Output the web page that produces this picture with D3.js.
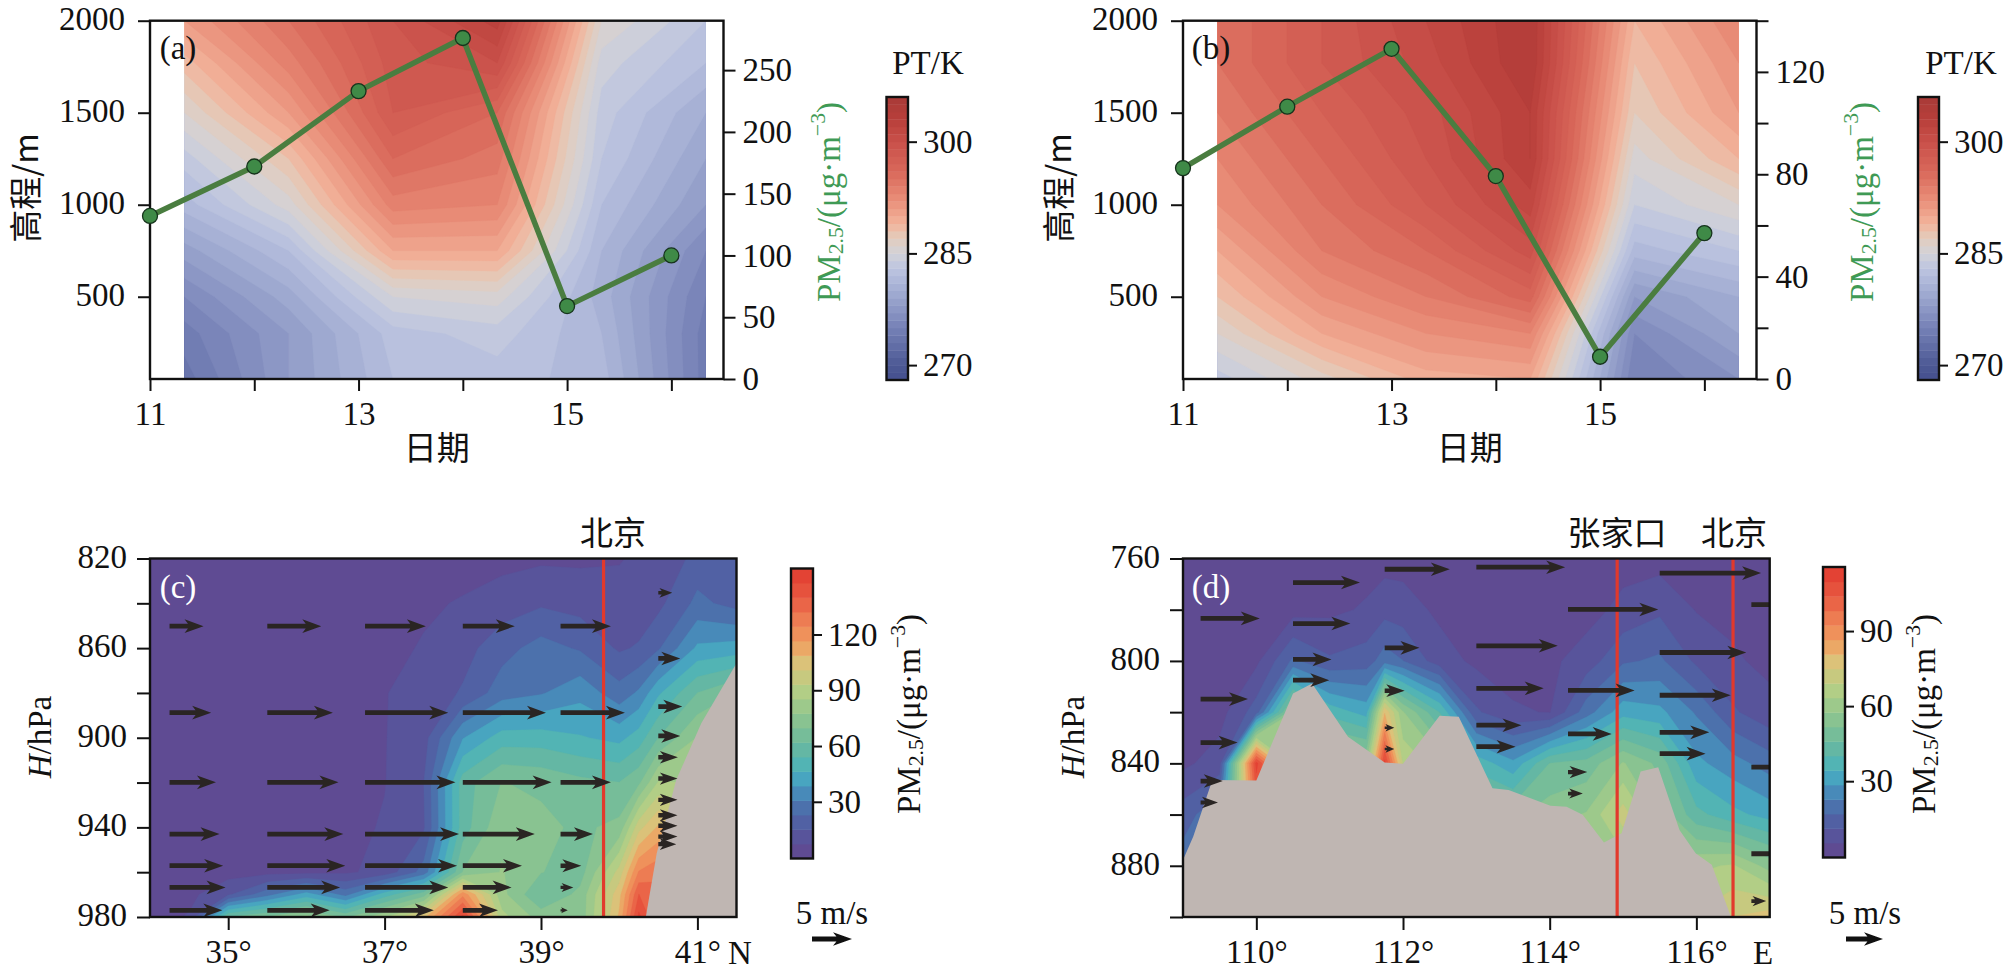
<!DOCTYPE html>
<html><head><meta charset="utf-8">
<script src="https://cdn.jsdelivr.net/npm/d3@7"></script>
<style>
html,body{margin:0;padding:0;background:#fff}
text{font-family:"Liberation Serif",serif;fill:#111}
.cjk{font-family:"Noto Sans CJK SC",sans-serif}
</style></head><body><svg id="c" width="2010" height="971"></svg>
<script>
// ---------- data ----------
const dayTicks=[11,12,13,14,15,16];
const dayLabels=[11,13,15];
const pmLineA=[132,172,233,276,59,100];
const pmLineB=[82.4,106.4,129,79.3,8.7,57];
const ptCols=[11.33,12.33,13.33,14.33,15.33,16.33];
const ptHeights=[2000,1770,1500,1250,1000,750,500,300,53];
const ptA=[
[291,295,299,302.5,286,283],
[288.5,293.5,298.5,300,284.5,282],
[286,291,298,296,283.5,280],
[283.5,288,296,294.5,283,279],
[281.5,285.5,293.5,293,282,278],
[278.5,282,290,290,281,276],
[276,279.5,285,285.5,280.5,275],
[274.5,278,282.5,283.5,281,274.5],
[273.5,278,282,282.5,281.5,274.5]];
const ptB=[
[295,298,301,304,289,293],
[295,298,300.5,304,288,292],
[294,297,299.5,303,287,291],
[293,296,299,303,285.5,289],
[292,295,298,301.5,284,286],
[290,294,296,299.5,281.5,283],
[288,292,294,296.5,278,280],
[286,290,292,293,276,279],
[283.5,286.5,289.5,290,275,277]];
const pmColsC=[34,34.5,35,35.5,36,36.5,37,37.5,38,38.5,39,39.5,40,40.25,40.5,41,41.5];
const pmLevelsC=[820,840,860,880,900,920,940,960,970,980];
const pmC=[
[3,3,3,3,3,3,3,3,4,5,6,6,7,8,8,18,16],
[3,3,3,3,3,3,4,6,8,11,14,12,9,10,13,25,20],
[3,3,3,3,3,3,5,8,12,20,26,22,14,16,22,40,42],
[3,3,3,3,4,5,7,10,16,27,30,36,26,32,45,62,70],
[3,3,3,4,5,5,7,12,38,50,50,47,44,50,62,78,78],
[3,3,3,4,6,5,7,15,58,70,68,64,62,68,86,85,85],
[3,3,4,4,5,5,8,14,58,76,72,68,72,98,110,100,100],
[3,3,4,5,5,6,10,26,70,78,70,66,96,125,130,120,120],
[4,5,14,28,42,28,50,66,122,80,62,72,106,140,135,120,120],
[4,8,62,70,80,68,84,106,150,88,74,72,110,150,130,120,120]];
const pmColsD=[109,109.5,110,110.5,111,111.5,111.75,112,112.5,113,113.5,114,114.5,115,115.5,116,116.5,117];
const pmLevelsD=[760,780,800,820,840,860,880,900];
const pmD=[
[2,2,2,3,3,3,3,3,3,2,2,2,2,3,3,3,3,3],
[2,2,3,3,4,6,9,8,4,3,2,2,3,7,10,5,4,3],
[3,3,4,18,12,14,20,17,8,4,3,4,8,16,18,10,6,4],
[3,3,14,58,38,32,80,58,40,12,6,5,20,32,30,22,12,7],
[4,8,112,60,60,58,112,68,60,38,30,46,48,58,50,30,25,20],
[14,22,100,60,60,60,60,60,60,50,50,55,58,72,56,42,36,32],
[20,22,60,60,60,60,60,60,60,60,60,60,60,60,62,62,64,55],
[20,22,60,60,60,60,60,60,60,60,60,60,60,60,62,70,75,78]];
const terrainLonC=[40.34,40.48,40.73,41.05,41.5];
const terrainPC=[980,951.5,918.8,893.5,866.8];
const terrainLonD=[109,109.14,109.4,110,110.5,110.76,111.25,111.75,112,112.5,112.76,113.22,113.44,114.01,114.23,114.45,114.74,114.98,115.24,115.48,115.77,115.99,116.21,116.47,117];
const terrainPD=[877.7,868.6,846.5,846.7,812.7,808.8,829.6,839.7,840.2,821.4,821.8,849.7,850.4,856.6,856.9,860.1,870.9,867.3,843.2,841.5,866,875.1,879.6,899.8,900];
const arrowLonC=[34.25,35.5,36.75,38,39.25];
const arrowLevelsC=[850.2,888.8,919.9,943,957.1,966.8,977];
const arrowUC=[
[4.25,6.75,7.6,6.5,6.3],
[5.2,8.2,10.4,10.4,8.05],
[5.8,8.9,11.3,11.1,6.3],
[6.25,9.5,11.75,9,4.05],
[6.7,9.75,11.5,7.4,2.6],
[7,9.1,10.4,6.1,1.6],
[6.6,7.8,8.6,4.4,0.9]];
const arrowLon2C=40.5;
const arrowP2C=[835.3,864.6,886.1,899.2,908.7,918.2,927.7,934.6,939.3,944.1,947.5];
const arrowU2C=[1.75,2.75,3,2.75,2.45,2.4,2.4,2.4,2.4,2.4,2.25];
const arrowLonD=[109.24,110.5,111.75,113,114.25,115.5,116.75];
const arrowPD=[
[783.4,814.9,831.9,846.9,855.3],
[769.4,785.4,799.4,807.5],
[764.2,794.9,811.6,826.1,834.4],
[763.4,794.1,810.7,825.1,833.5],
[779.9,811.5,828.5,843.4,851.8],
[765.7,796.7,813.4,827.9,836.2],
[778,841.5,875.3,893.8]];
const arrowUD=[
[8,6.4,5,3,2.35],
[9.05,7.75,5.2,4.9],
[8.8,4.7,2.7,1.3,1.3],
[12,11,9.1,6.1,5.3],
[12.2,9,5.9,2.6,2],
[13.7,11.7,9.6,6.7,6.2],
[6,6,6,2]];
const ptStops=[[268,"#454f8e"],[270,"#4d5995"],[275,"#7581b6"],[280,"#a2add3"],[283,"#bdc5e0"],[285,"#d2d2d8"],[287,"#e2cdbe"],[289,"#f2b49b"],[292,"#ea907a"],[296,"#d9685a"],[300,"#c9504a"],[303,"#b83f3a"],[306,"#a83a38"]];
const pmStops=[[0,"#62478f"],[15,"#54589f"],[30,"#4a78b0"],[40,"#45a0c4"],[50,"#52b4b4"],[60,"#68b8a0"],[75,"#8cc48f"],[90,"#b4cf85"],[105,"#dcc279"],[115,"#f0a060"],[125,"#ee8557"],[140,"#e85a42"],[155,"#e23c30"]];

// ---------- helpers ----------
const svg=d3.select("#c");
const FS=33;
const ramp=st=>d3.scaleLinear().domain(st.map(d=>d[0])).range(st.map(d=>d[1])).clamp(true);
let clipId=0;
function clip(x0,y0,x1,y1){const id="cl"+(++clipId);
 svg.append("clipPath").attr("id",id).append("rect").attr("x",x0).attr("y",y0).attr("width",x1-x0).attr("height",y1-y0);return "url(#"+id+")";}
function contourFill(g,grid,cols,rows,xs,ys,thr,col){
 const n=cols.length,m=rows.length,vals=grid.flat();
 const ix=d3.scaleLinear().domain(cols.map((_,i)=>i+.5)).range(cols.map(xs));
 const iy=d3.scaleLinear().domain(rows.map((_,i)=>i+.5)).range(rows.map(ys));
 const path=d3.geoPath(d3.geoTransform({point(x,y){this.stream.point(ix(x),iy(y));}}));
 const cs=d3.contours().size([n,m]).thresholds(thr)(vals);
 g.selectAll(null).data(cs).join("path").attr("d",path)
  .attr("fill",(d,i)=>col((thr[i]+(thr[i+1]??thr[i]+thr[1]-thr[0]))/2))
  .attr("stroke",(d,i)=>col((thr[i]+(thr[i+1]??thr[i]+thr[1]-thr[0]))/2)).attr("stroke-width",.3);
}
function axisStyle(g,size,shift){g.select(".domain").remove();
 g.selectAll(".tick line").attr("stroke","#111").attr("stroke-width",2);
 g.selectAll("text").attr("font-size",size||FS).attr("fill","#111").attr("font-family","Liberation Serif");
 if(shift)g.selectAll("text").attr("y",shift);}
function frame(x0,y0,x1,y1){svg.append("rect").attr("x",x0).attr("y",y0).attr("width",x1-x0).attr("height",y1-y0)
 .attr("fill","none").attr("stroke","#111").attr("stroke-width",2.4);}
function txt(x,y,s,o={}){const t=svg.append("text").attr("x",x).attr("y",y).attr("text-anchor",o.anchor||"middle")
 .attr("dominant-baseline","central").attr("font-size",o.size||FS).text(s);
 if(o.cjk)t.attr("class","cjk"); if(o.fill)t.style("fill",o.fill);
 if(o.rot)t.attr("transform",`rotate(-90 ${x} ${y})`); return t;}
function pmLabel(x,y,fill){
 const t=svg.append("text").attr("transform",`translate(${x},${y}) rotate(-90)`).attr("text-anchor","middle")
  .attr("dominant-baseline","central").attr("font-size",FS).style("fill",fill);
 t.append("tspan").text("PM");
 t.append("tspan").attr("font-size",FS*.66).attr("dy",7).style("fill",fill).text("2.5");
 t.append("tspan").attr("dy",-7).text("/(μg·m");
 t.append("tspan").attr("font-size",FS*.66).attr("dy",-11).text("−3");
 t.append("tspan").attr("dy",11).text(")");
}
function colorbar(x0,x1,y0,y1,lo,hi,thr,col,ticks,labelX){
 const y=d3.scaleLinear().domain([lo,hi]).range([y1,y0]);
 svg.append("g").selectAll("rect").data(thr.slice(0,-1)).join("rect")
  .attr("x",x0).attr("width",x1-x0).attr("y",(d,i)=>y(thr[i+1])).attr("height",(d,i)=>y(thr[i])-y(thr[i+1])+.4)
  .attr("fill",(d,i)=>col((thr[i]+thr[i+1])/2));
 const g=svg.append("g").attr("transform",`translate(${x1},0)`).call(d3.axisRight(y).tickValues(ticks).tickSize(9).tickPadding(labelX-x1-9).tickFormat(d3.format("d")));
 axisStyle(g); frame(x0,y0,x1,y1);
}
function arrowPath(x,y,len){
 const s=Math.min(1,len/22),hl=Math.min(19,len*.92),hw=6.8*Math.pow(s,.75),t=2.4*Math.pow(s,.7),n=hl*.82;
 return `M${x},${y-t}L${x+len-n},${y-t}L${x+len-hl},${y-hw}L${x+len},${y}L${x+len-hl},${y+hw}L${x+len-n},${y+t}L${x},${y+t}Z`;
}
// ---------- panels a, b ----------
const ptThr=d3.range(268,307,1), ptCol=ramp(ptStops);
function topPanel(x0,grid,line,rightMax,rightTicks,rightFmt,tag,cbX0,cbX1,titleX){
 const x1=x0+573.5,y0=20.7,y1=379;
 const xs=d3.scaleLinear().domain([11,16.5]).range([x0,x1]);
 const ys=d3.scaleLinear().domain([53,2000]).range([y1,y0]);
 const yr=d3.scaleLinear().domain([0,rightMax]).range([y1,y0]);
 const g=svg.append("g").attr("clip-path",clip(xs(11.33),y0,xs(16.33),y1));
 contourFill(g,grid,ptCols,ptHeights,xs,ys,ptThr,ptCol);
 const a=svg.append("g").attr("transform",`translate(0,${y1})`).call(d3.axisBottom(xs).tickValues(dayTicks).tickSize(12).tickPadding(11).tickFormat(d=>dayLabels.includes(d)?d:""));axisStyle(a);
 const l=svg.append("g").attr("transform",`translate(${x0},0)`).call(d3.axisLeft(ys).tickValues([500,1000,1500,2000]).tickSize(12).tickPadding(13).tickFormat(d3.format("d")));axisStyle(l,FS,-2);
 const r=svg.append("g").attr("transform",`translate(${x1},0)`).call(d3.axisRight(yr).tickValues(rightTicks).tickSize(12).tickPadding(7).tickFormat(rightFmt));axisStyle(r);
 frame(x0,y0,x1,y1);
 const lg=d3.line().x((d,i)=>xs(dayTicks[i])).y(d=>yr(d));
 svg.append("path").attr("d",lg(line)).attr("fill","none").attr("stroke","#4a7d40").attr("stroke-width",5.5).attr("stroke-linejoin","round");
 svg.append("g").selectAll("circle").data(line).join("circle").attr("cx",(d,i)=>xs(dayTicks[i])).attr("cy",d=>yr(d)).attr("r",7.5)
  .attr("fill","#3f8a47").attr("stroke","#16331c").attr("stroke-width",1.3);
 txt(x0+28,48,tag);
 txt(x0-126,188,"高程/m",{cjk:1,rot:1});
 txt(xs(13.75),446,"日期",{cjk:1});
 pmLabel(x1+105,202,"#3f9a55");
 txt(titleX,63,"PT/K");
 colorbar(cbX0,cbX1,97,380,268,306,ptThr,ptCol,[270,285,300],cbX1+15);
}
topPanel(150,ptA,pmLineA,290,[0,50,100,150,200,250],d3.format("d"),"(a)",886.5,908,928);
topPanel(1183,ptB,pmLineB,140,[0,20,40,60,80,100,120,140],d=>[0,40,80,120].includes(d)?d:"","(b)",1918,1939,1961);
// ---------- panels c, d ----------
function lowerPanel(o){
 const {x0,x1,lon,p}=o,y0=558.5,y1=917;
 const xs=d3.scaleLinear().domain(lon).range([x0,x1]);
 const ys=d3.scaleLinear().domain(p).range([y0,y1]);
 const thr=o.thr,col=ramp(pmStops.map(d=>[d[0]*o.k,d[1]]));
 const c=clip(x0,y0,x1,y1);
 const g=svg.append("g").attr("clip-path",c);
 contourFill(g,o.grid,o.cols,o.rows,xs,ys,thr,col);
 g.append("path").attr("fill","#bfb6b2").attr("d",d3.area().x(d=>xs(d[0])).y0(y1+5).y1(d=>ys(d[1]))(o.terLon.map((d,i)=>[d,o.terP[i]])));
 o.sites.forEach(s=>{svg.append("line").attr("x1",xs(s)).attr("x2",xs(s)).attr("y1",y0).attr("y2",y1).attr("stroke","#e2392c").attr("stroke-width",3.2);});
 const ag=svg.append("g").attr("clip-path",c);
 o.arrows.forEach(a=>ag.append("path").attr("d",arrowPath(xs(a[0]),ys(a[1]),a[2]*o.scale)).attr("fill","#2a2523"));
 const b=svg.append("g").attr("transform",`translate(0,${y1})`).call(d3.axisBottom(xs).tickValues(o.xt).tickSize(13).tickPadding(10).tickFormat(d=>d+"°"));axisStyle(b);
 const l=svg.append("g").attr("transform",`translate(${x0},0)`).call(d3.axisLeft(ys).tickValues(o.yt).tickSize(13).tickPadding(10).tickFormat(d=>o.yl.includes(d)?d:""));axisStyle(l,FS,-2);
 frame(x0,y0,x1,y1);
 txt(x0+28,587,o.tag,{fill:"#fff"});
 const h=svg.append("text").attr("transform",`translate(${x0-110},737) rotate(-90)`).attr("text-anchor","middle").attr("dominant-baseline","central").attr("font-size",FS);
 h.append("tspan").attr("font-style","italic").text("H"); h.append("tspan").text("/hPa");
 o.labels.forEach(s=>txt(s[0],531,s[1],{cjk:1}));
 txt(o.dirX,953,o.dir);
 pmLabel(o.cbLabelX,714,"#111");
 colorbar(o.cb[0],o.cb[1],o.cb[2],o.cb[3],-0.5,o.cbMax,thr,col,o.cbT,o.cb[1]+15);
 txt(o.keyC,913,"5 m/s");
 svg.append("path").attr("d",arrowPath(o.keyX,939,5*o.scale)).attr("fill","#111");
}
const arrowsC=[];
arrowLevelsC.forEach((p,i)=>arrowLonC.forEach((l,j)=>arrowsC.push([l,p,arrowUC[i][j]])));
arrowP2C.forEach((p,i)=>arrowsC.push([arrowLon2C,p,arrowU2C[i]]));
const arrowsD=[];
arrowLonD.forEach((l,j)=>arrowPD[j].forEach((p,i)=>arrowsD.push([l,p,arrowUD[j][i]])));
lowerPanel({x0:150,x1:736.5,lon:[34,41.5],p:[820,980],grid:pmC,cols:pmColsC,rows:pmLevelsC,thr:d3.range(-0.5,156,7.8),k:1,
 terLon:terrainLonC,terP:terrainPC,sites:[39.8],arrows:arrowsC,scale:8,xt:[35,37,39,41],yt:d3.range(820,981,20),yl:[820,860,900,940,980],
 tag:"(c)",labels:[[613,"北京"]],dir:"N",dirX:740,cbLabelX:909,cb:[791,813,568.5,858.5],cbMax:155.5,cbT:[30,60,90,120],keyC:832,keyX:812});
lowerPanel({x0:1183,x1:1769.7,lon:[109,117],p:[760,900],grid:pmD,cols:pmColsD,rows:pmLevelsD,thr:d3.range(-0.5,116,5.8),k:115/155,
 terLon:terrainLonD,terP:terrainPD,sites:[114.92,116.5],arrows:arrowsD,scale:7.4,xt:[110,112,114,116],yt:d3.range(760,901,20),yl:[760,800,840,880],
 tag:"(d)",labels:[[1617,"张家口"],[1734,"北京"]],dir:"E",dirX:1763,cbLabelX:1924,cb:[1823,1845,567,857.5],cbMax:115.6,cbT:[30,60,90],keyC:1865,keyX:1846});
</script></body></html>
